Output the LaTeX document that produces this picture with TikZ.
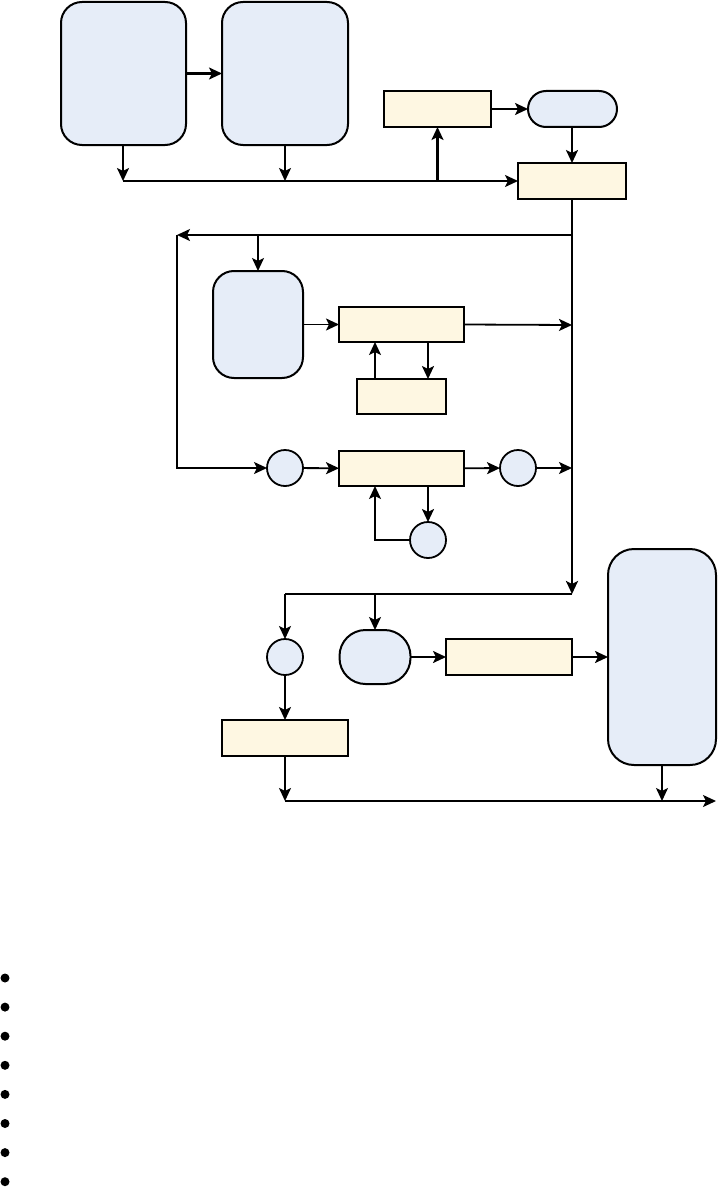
\documentclass[tikz,border=0pt]{standalone}
\usetikzlibrary{arrows.meta}
\definecolor{bluefill}{RGB}{230,237,248}
\definecolor{yelfill}{RGB}{254,247,226}
\begin{document}
\begin{tikzpicture}[x=1pt,y=-1pt,
  vessel/.style={draw,line width=2pt,fill=bluefill,rounded corners=#1,inner sep=0,outer sep=0},
  unit/.style={draw,line width=2pt,fill=yelfill,inner sep=0,outer sep=0},
  pump/.style={draw,line width=1.8pt,fill=bluefill,circle,minimum size=36pt,inner sep=0,outer sep=0},
  arr/.style={line width=1.8pt,-{Stealth[length=13pt,width=12pt,inset=3pt]}},
  ln/.style={line width=1.8pt},
  bul/.style={circle,fill=black,minimum size=9pt,inner sep=0}]
\useasboundingbox (0,0) rectangle (718,1196);
% nodes
\node[vessel=21pt,minimum width=125pt,minimum height=143pt] (A) at (123.5,73.5) {};
\node[vessel=21pt,minimum width=126pt,minimum height=143pt] (B) at (285,73.5) {};
\node[unit,minimum width=107pt,minimum height=36pt] (D) at (437.5,109) {};
\node[vessel=18pt,minimum width=89pt,minimum height=36pt] (E) at (572.5,109) {};
\node[unit,minimum width=108pt,minimum height=36pt] (C) at (572,181) {};
\node[vessel=21pt,minimum width=90pt,minimum height=107pt] (F) at (258,324.5) {};
\node[unit,minimum width=125pt,minimum height=35pt] (G) at (401.5,324.5) {};
\node[unit,minimum width=89pt,minimum height=35pt] (H) at (401.5,396.5) {};
\node[pump] (I) at (285,468) {};
\node[unit,minimum width=125pt,minimum height=35pt] (J) at (401.5,468.5) {};
\node[pump] (K) at (518,468) {};
\node[pump] (L) at (428,540) {};
\node[pump] (M) at (285,657) {};
\node[vessel=26pt,minimum width=71pt,minimum height=54pt] (N) at (375,657) {};
\node[unit,minimum width=126pt,minimum height=36pt] (O) at (509,657) {};
\node[vessel=26pt,minimum width=108pt,minimum height=216pt] (P) at (662,657) {};
\node[unit,minimum width=126pt,minimum height=36pt] (Q) at (285,738) {};
% coordinates
\coordinate (j1) at (123,181);
\coordinate (j2) at (285,181);
\coordinate (j3) at (437.5,181);
\coordinate (t1) at (572,235);
\coordinate (t2) at (177,235);
\coordinate (t3) at (258,235);
\coordinate (t4) at (177,468);
\coordinate (r1) at (572,325);
\coordinate (r2) at (572,468);
\coordinate (xl) at (375,0);
\coordinate (xr) at (428,0);
\coordinate (lc) at (375,540);
\coordinate (b1) at (572,594);
\coordinate (b2) at (285,594);
\coordinate (b3) at (375,594);
\coordinate (e1) at (285,801);
\coordinate (e2) at (662,801);
\coordinate (e3) at (716,801);
% connectors
\draw[arr,line width=2.3pt] (A) -- (B);
\draw[arr,line width=2.3pt] (A.south -| j1) -- (j1);
\draw[arr] (B.south) -- (j2);
\draw[arr] (j1) -- (C.west);
\draw[arr,line width=2.3pt] (j3) -- (D.south);
\draw[arr,line width=2.3pt] (D) -- (E);
\draw[arr,line width=2.3pt] (E.south -| C.north) -- (C.north);
\draw[arr,line width=2.5pt] (C.south) -- (b1);
\draw[arr] (t1) -- (t2);
\draw[arr] (t3) -- (F.north);
\draw[arr] (t2) -- (t4) -- (I.west);
\draw[arr] (F) -- (G);
\draw[arr] (G.east) -- (r1);
\draw[arr] (H.north -| xl) -- (G.south -| xl);
\draw[arr,line width=2.3pt] (G.south -| xr) -- (H.north -| xr);
\draw[arr] (I) -- (J);
\draw[arr] (J) -- (K);
\draw[arr] (K.east) -- (r2);
\draw[arr,line width=2.3pt] (J.south -| xr) -- (L.north);
\draw[arr] (L.west) -- (lc) -- (J.south -| xl);
\draw[ln,line width=2.3pt] (b1) -- (b2);
\draw[arr] (b2) -- (M.north);
\draw[arr] (b3) -- (N.north);
\draw[arr,line width=2.3pt] (N) -- (O);
\draw[arr,line width=2.3pt] (O) -- (P.west |- O.east);
\draw[arr] (M) -- (Q);
\draw[arr] (Q.south) -- (e1);
\draw[arr] (e1) -- (e3);
\draw[arr] (P.south) -- (e2);
% bullets
\foreach \k in {0,...,7} \node[bul] (bul\k) at (5,978+29.1*\k) {};
\end{tikzpicture}
\end{document}
